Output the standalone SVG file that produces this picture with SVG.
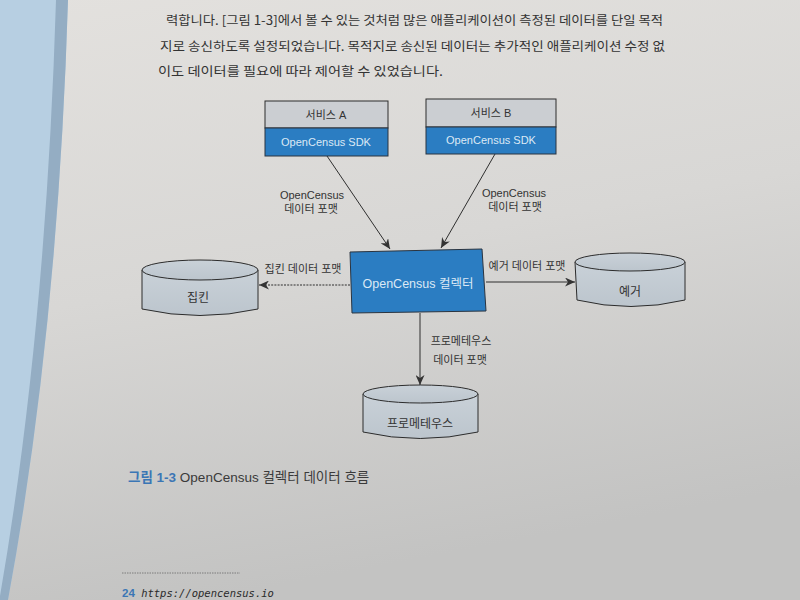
<svg xmlns="http://www.w3.org/2000/svg" width="800" height="600" viewBox="0 0 800 600">
<defs>
<linearGradient id="page" x1="0" y1="0" x2="0.25" y2="1">
<stop offset="0" stop-color="#e3e1de"/>
<stop offset="0.5" stop-color="#d8d7d5"/>
<stop offset="1" stop-color="#c3c3c2"/>
</linearGradient>
<linearGradient id="cyl" x1="0" y1="0" x2="0" y2="1">
<stop offset="0" stop-color="#c9d1d8"/>
<stop offset="1" stop-color="#bcc5cd"/>
</linearGradient>
<marker id="arr" markerWidth="11" markerHeight="9" refX="10" refY="4.5" orient="auto" markerUnits="userSpaceOnUse">
<path d="M0,0 L10,4.5 L0,9 L3,4.5 z" fill="#333"/>
</marker>
<style>
.body{font-family:"Noto Sans CJK KR","Liberation Serif",serif;font-size:12.5px;fill:#333}
.lbl{font-family:"Liberation Sans","Noto Sans CJK KR",sans-serif;font-size:11px;fill:#333;text-anchor:middle}
.wlbl{font-family:"Liberation Sans","Noto Sans CJK KR",sans-serif;font-size:11px;fill:#dce9f5;text-anchor:middle}
.gray{fill:#cbced2;stroke:#2c2c2c;stroke-width:1}
.blue{fill:#2b7dc2;stroke:#2a3440;stroke-width:1}
.cyl{fill:url(#cyl);stroke:#2c2c2c;stroke-width:1}
.conn{stroke:#2f2f2f;stroke-width:1;fill:none;marker-end:url(#arr)}
</style>
</defs>
<rect width="800" height="600" fill="url(#page)"/>
<path d="M0,0 L68,0 Q58,330 8,600 L0,600 z" fill="#b7cfe2"/>
<path d="M56,0 L68,0 Q58,330 8,600 L0,600 L0,596 Q46,330 56,0 z" fill="#94adc3"/>

<text class="body" x="166" y="25" textLength="497" lengthAdjust="spacingAndGlyphs">력합니다. [그림 1-3]에서 볼 수 있는 것처럼 많은 애플리케이션이 측정된 데이터를 단일 목적</text>
<text class="body" x="160" y="51" textLength="505" lengthAdjust="spacingAndGlyphs">지로 송신하도록 설정되었습니다. 목적지로 송신된 데이터는 추가적인 애플리케이션 수정 없</text>
<text class="body" x="158" y="76" textLength="285" lengthAdjust="spacingAndGlyphs">이도 데이터를 필요에 따라 제어할 수 있었습니다.</text>

<g id="connectors">
<line class="conn" x1="327" y1="156" x2="390" y2="249"/>
<line class="conn" x1="495" y1="154" x2="441" y2="248"/>
<line class="conn" x1="350" y1="285" x2="259" y2="285" stroke-dasharray="2 1.2"/>
<line class="conn" x1="486" y1="282" x2="575" y2="282"/>
<line class="conn" x1="420" y1="313" x2="420" y2="385"/>
<text class="lbl" x="312" y="199">OpenCensus</text>
<text class="lbl" x="311" y="213">데이터 포맷</text>
<text class="lbl" x="514" y="197">OpenCensus</text>
<text class="lbl" x="515" y="211">데이터 포맷</text>
<text class="lbl" x="303" y="273">집킨 데이터 포맷</text>
<text class="lbl" x="527" y="270">예거 데이터 포맷</text>
<text class="lbl" x="461" y="345">프로메테우스</text>
<text class="lbl" x="460" y="364">데이터 포맷</text>
</g>

<g id="service-a">
<rect class="gray" x="265" y="101" width="123" height="27"/>
<rect class="blue" x="265" y="128" width="123" height="28"/>
<text class="lbl" x="326" y="119">서비스 A</text>
<text class="wlbl" x="326" y="146">OpenCensus SDK</text>
</g>

<g id="service-b">
<rect class="gray" x="426" y="99" width="130" height="28"/>
<rect class="blue" x="426" y="127" width="130" height="27"/>
<text class="lbl" x="491" y="117">서비스 B</text>
<text class="wlbl" x="491" y="144">OpenCensus SDK</text>
</g>

<g id="collector">
<polygon class="blue" points="350,252 482,249 486,311 352,313" fill="#2e85cb"/>
<text class="wlbl" x="418" y="288" style="font-size:12.5px">OpenCensus 컬렉터</text>
</g>

<g id="zipkin">
<path class="cyl" d="M142,270 L142,309 Q200,322 258,309 L258,270"/>
<ellipse class="cyl" cx="200" cy="270" rx="58" ry="10"/>
<text class="lbl" x="198" y="302" style="font-size:12px">집킨</text>
</g>

<g id="jaeger">
<path class="cyl" d="M575,262 L577,300 Q631,313 685,300 L685,262"/>
<ellipse class="cyl" cx="630" cy="262" rx="55" ry="9"/>
<text class="lbl" x="630" y="296" style="font-size:12px">예거</text>
</g>

<g id="prometheus">
<path class="cyl" d="M363,394 L363,432 Q420,445 478,432 L478,394"/>
<ellipse class="cyl" cx="420.5" cy="394" rx="57.5" ry="9"/>
<text class="lbl" x="420" y="428" style="font-size:12px">프로메테우스</text>
</g>

<text x="128" y="482" style="font-family:'Liberation Sans','Noto Sans CJK KR',sans-serif;font-size:13.5px;fill:#3a3a3a"><tspan style="font-weight:bold;fill:#3b76b5">그림 1-3</tspan> OpenCensus 컬렉터 데이터 흐름</text>

<line x1="122" y1="573" x2="240" y2="573" stroke="#6a6a6a" stroke-width="0.8" stroke-dasharray="1.5 1"/>
<text x="122" y="597" style="font-family:'DejaVu Sans Mono','Liberation Mono',monospace;font-size:10.5px;fill:#2a2a2a"><tspan style="font-family:'Liberation Sans',sans-serif;font-weight:bold;fill:#3b76b5;font-size:11.5px">24</tspan> <tspan style="font-style:italic">https://opencensus.io</tspan></text>
</svg>
